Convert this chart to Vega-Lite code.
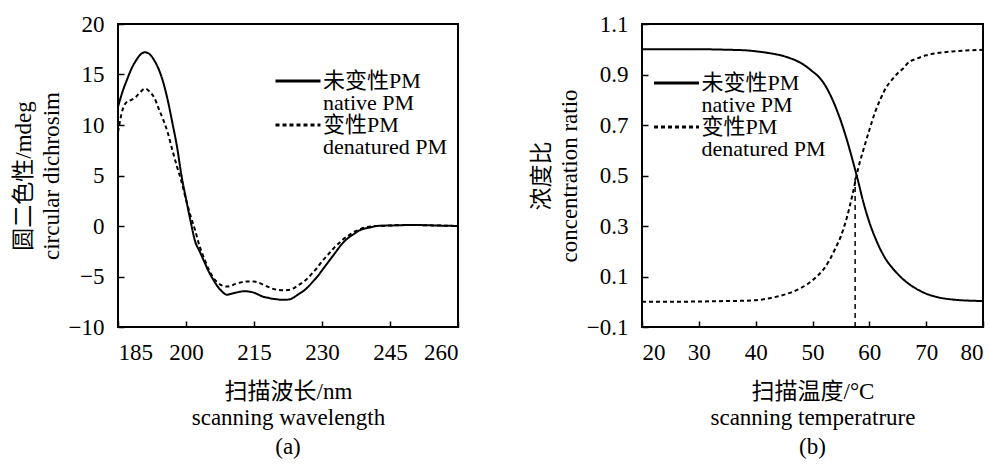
{
  "$schema": "https://vega.github.io/schema/vega-lite/v6.json",
  "padding": {"left": 11, "top": 12, "right": 0, "bottom": 0},
  "spacing": 66,
  "resolve": {"legend": {"strokeDash": "independent"}, "scale": {"strokeDash": "independent"}},
  "datasets": {
    "cd": [
      {"wavelength": 185, "cd": 11.8, "series": "native"},
      {"wavelength": 186, "cd": 13.3, "series": "native"},
      {"wavelength": 187, "cd": 14.5, "series": "native"},
      {"wavelength": 188, "cd": 15.6, "series": "native"},
      {"wavelength": 189, "cd": 16.4, "series": "native"},
      {"wavelength": 190, "cd": 17.0, "series": "native"},
      {"wavelength": 191, "cd": 17.2, "series": "native"},
      {"wavelength": 192, "cd": 17.0, "series": "native"},
      {"wavelength": 193, "cd": 16.4, "series": "native"},
      {"wavelength": 194, "cd": 15.5, "series": "native"},
      {"wavelength": 195, "cd": 14.2, "series": "native"},
      {"wavelength": 196, "cd": 12.4, "series": "native"},
      {"wavelength": 197, "cd": 10.2, "series": "native"},
      {"wavelength": 198, "cd": 7.9, "series": "native"},
      {"wavelength": 199, "cd": 5.0, "series": "native"},
      {"wavelength": 200, "cd": 2.7, "series": "native"},
      {"wavelength": 201, "cd": 0.5, "series": "native"},
      {"wavelength": 202, "cd": -1.5, "series": "native"},
      {"wavelength": 203, "cd": -2.5, "series": "native"},
      {"wavelength": 204, "cd": -3.5, "series": "native"},
      {"wavelength": 205, "cd": -4.5, "series": "native"},
      {"wavelength": 206, "cd": -5.3, "series": "native"},
      {"wavelength": 207, "cd": -6.0, "series": "native"},
      {"wavelength": 208, "cd": -6.5, "series": "native"},
      {"wavelength": 209, "cd": -6.8, "series": "native"},
      {"wavelength": 210, "cd": -6.7, "series": "native"},
      {"wavelength": 211, "cd": -6.6, "series": "native"},
      {"wavelength": 212, "cd": -6.5, "series": "native"},
      {"wavelength": 213, "cd": -6.45, "series": "native"},
      {"wavelength": 214, "cd": -6.5, "series": "native"},
      {"wavelength": 215, "cd": -6.6, "series": "native"},
      {"wavelength": 216, "cd": -6.8, "series": "native"},
      {"wavelength": 217, "cd": -7.0, "series": "native"},
      {"wavelength": 218, "cd": -7.1, "series": "native"},
      {"wavelength": 219, "cd": -7.2, "series": "native"},
      {"wavelength": 220, "cd": -7.25, "series": "native"},
      {"wavelength": 221, "cd": -7.3, "series": "native"},
      {"wavelength": 222, "cd": -7.3, "series": "native"},
      {"wavelength": 223, "cd": -7.25, "series": "native"},
      {"wavelength": 224, "cd": -7.0, "series": "native"},
      {"wavelength": 225, "cd": -6.7, "series": "native"},
      {"wavelength": 226, "cd": -6.4, "series": "native"},
      {"wavelength": 227, "cd": -6.0, "series": "native"},
      {"wavelength": 228, "cd": -5.5, "series": "native"},
      {"wavelength": 229, "cd": -5.0, "series": "native"},
      {"wavelength": 230, "cd": -4.4, "series": "native"},
      {"wavelength": 231, "cd": -3.8, "series": "native"},
      {"wavelength": 232, "cd": -3.2, "series": "native"},
      {"wavelength": 233, "cd": -2.6, "series": "native"},
      {"wavelength": 234, "cd": -2.0, "series": "native"},
      {"wavelength": 235, "cd": -1.5, "series": "native"},
      {"wavelength": 236, "cd": -1.1, "series": "native"},
      {"wavelength": 237, "cd": -0.8, "series": "native"},
      {"wavelength": 238, "cd": -0.5, "series": "native"},
      {"wavelength": 239, "cd": -0.3, "series": "native"},
      {"wavelength": 240, "cd": -0.2, "series": "native"},
      {"wavelength": 241, "cd": -0.1, "series": "native"},
      {"wavelength": 242, "cd": 0.0, "series": "native"},
      {"wavelength": 245, "cd": 0.05, "series": "native"},
      {"wavelength": 250, "cd": 0.1, "series": "native"},
      {"wavelength": 255, "cd": 0.05, "series": "native"},
      {"wavelength": 260, "cd": 0.0, "series": "native"},
      {"wavelength": 185, "cd": 9.3, "series": "denatured"},
      {"wavelength": 186, "cd": 11.5, "series": "denatured"},
      {"wavelength": 187, "cd": 12.3, "series": "denatured"},
      {"wavelength": 188, "cd": 12.5, "series": "denatured"},
      {"wavelength": 189, "cd": 12.8, "series": "denatured"},
      {"wavelength": 190, "cd": 13.3, "series": "denatured"},
      {"wavelength": 191, "cd": 13.6, "series": "denatured"},
      {"wavelength": 192, "cd": 13.3, "series": "denatured"},
      {"wavelength": 193, "cd": 12.7, "series": "denatured"},
      {"wavelength": 194, "cd": 11.6, "series": "denatured"},
      {"wavelength": 195, "cd": 10.5, "series": "denatured"},
      {"wavelength": 196, "cd": 9.2, "series": "denatured"},
      {"wavelength": 197, "cd": 7.5, "series": "denatured"},
      {"wavelength": 198, "cd": 5.9, "series": "denatured"},
      {"wavelength": 199, "cd": 4.4, "series": "denatured"},
      {"wavelength": 200, "cd": 2.6, "series": "denatured"},
      {"wavelength": 201, "cd": 1.0, "series": "denatured"},
      {"wavelength": 202, "cd": -0.4, "series": "denatured"},
      {"wavelength": 203, "cd": -2.0, "series": "denatured"},
      {"wavelength": 204, "cd": -3.2, "series": "denatured"},
      {"wavelength": 205, "cd": -4.3, "series": "denatured"},
      {"wavelength": 206, "cd": -5.1, "series": "denatured"},
      {"wavelength": 207, "cd": -5.6, "series": "denatured"},
      {"wavelength": 208, "cd": -5.9, "series": "denatured"},
      {"wavelength": 209, "cd": -6.0, "series": "denatured"},
      {"wavelength": 210, "cd": -5.9, "series": "denatured"},
      {"wavelength": 211, "cd": -5.7, "series": "denatured"},
      {"wavelength": 212, "cd": -5.6, "series": "denatured"},
      {"wavelength": 213, "cd": -5.5, "series": "denatured"},
      {"wavelength": 214, "cd": -5.5, "series": "denatured"},
      {"wavelength": 215, "cd": -5.5, "series": "denatured"},
      {"wavelength": 216, "cd": -5.6, "series": "denatured"},
      {"wavelength": 217, "cd": -5.8, "series": "denatured"},
      {"wavelength": 218, "cd": -6.0, "series": "denatured"},
      {"wavelength": 219, "cd": -6.2, "series": "denatured"},
      {"wavelength": 220, "cd": -6.3, "series": "denatured"},
      {"wavelength": 221, "cd": -6.35, "series": "denatured"},
      {"wavelength": 222, "cd": -6.35, "series": "denatured"},
      {"wavelength": 223, "cd": -6.3, "series": "denatured"},
      {"wavelength": 224, "cd": -6.1, "series": "denatured"},
      {"wavelength": 225, "cd": -5.8, "series": "denatured"},
      {"wavelength": 226, "cd": -5.5, "series": "denatured"},
      {"wavelength": 227, "cd": -5.1, "series": "denatured"},
      {"wavelength": 228, "cd": -4.6, "series": "denatured"},
      {"wavelength": 229, "cd": -4.1, "series": "denatured"},
      {"wavelength": 230, "cd": -3.5, "series": "denatured"},
      {"wavelength": 231, "cd": -3.0, "series": "denatured"},
      {"wavelength": 232, "cd": -2.5, "series": "denatured"},
      {"wavelength": 233, "cd": -2.0, "series": "denatured"},
      {"wavelength": 234, "cd": -1.6, "series": "denatured"},
      {"wavelength": 235, "cd": -1.2, "series": "denatured"},
      {"wavelength": 236, "cd": -0.9, "series": "denatured"},
      {"wavelength": 237, "cd": -0.6, "series": "denatured"},
      {"wavelength": 238, "cd": -0.4, "series": "denatured"},
      {"wavelength": 239, "cd": -0.2, "series": "denatured"},
      {"wavelength": 240, "cd": -0.1, "series": "denatured"},
      {"wavelength": 242, "cd": 0.0, "series": "denatured"},
      {"wavelength": 245, "cd": 0.05, "series": "denatured"},
      {"wavelength": 250, "cd": 0.1, "series": "denatured"},
      {"wavelength": 255, "cd": 0.05, "series": "denatured"},
      {"wavelength": 260, "cd": 0.0, "series": "denatured"}
    ],
    "melt": [
      {"temperature": 20, "ratio": 1.0, "series": "native"},
      {"temperature": 25, "ratio": 1.0, "series": "native"},
      {"temperature": 30, "ratio": 1.0, "series": "native"},
      {"temperature": 35, "ratio": 0.998, "series": "native"},
      {"temperature": 38, "ratio": 0.996, "series": "native"},
      {"temperature": 40, "ratio": 0.992, "series": "native"},
      {"temperature": 42, "ratio": 0.986, "series": "native"},
      {"temperature": 44, "ratio": 0.978, "series": "native"},
      {"temperature": 46, "ratio": 0.965, "series": "native"},
      {"temperature": 48, "ratio": 0.945, "series": "native"},
      {"temperature": 49, "ratio": 0.93, "series": "native"},
      {"temperature": 50, "ratio": 0.912, "series": "native"},
      {"temperature": 51, "ratio": 0.893, "series": "native"},
      {"temperature": 52, "ratio": 0.865, "series": "native"},
      {"temperature": 53, "ratio": 0.825, "series": "native"},
      {"temperature": 54, "ratio": 0.775, "series": "native"},
      {"temperature": 55, "ratio": 0.715, "series": "native"},
      {"temperature": 56, "ratio": 0.645, "series": "native"},
      {"temperature": 57, "ratio": 0.565, "series": "native"},
      {"temperature": 58, "ratio": 0.48, "series": "native"},
      {"temperature": 59, "ratio": 0.39, "series": "native"},
      {"temperature": 60, "ratio": 0.315, "series": "native"},
      {"temperature": 61, "ratio": 0.255, "series": "native"},
      {"temperature": 62, "ratio": 0.205, "series": "native"},
      {"temperature": 63, "ratio": 0.165, "series": "native"},
      {"temperature": 64, "ratio": 0.135, "series": "native"},
      {"temperature": 65, "ratio": 0.11, "series": "native"},
      {"temperature": 66, "ratio": 0.088, "series": "native"},
      {"temperature": 67, "ratio": 0.07, "series": "native"},
      {"temperature": 68, "ratio": 0.055, "series": "native"},
      {"temperature": 70, "ratio": 0.032, "series": "native"},
      {"temperature": 72, "ratio": 0.018, "series": "native"},
      {"temperature": 75, "ratio": 0.008, "series": "native"},
      {"temperature": 78, "ratio": 0.004, "series": "native"},
      {"temperature": 80, "ratio": 0.003, "series": "native"},
      {"temperature": 20, "ratio": 0.0, "series": "denatured"},
      {"temperature": 25, "ratio": 0.0, "series": "denatured"},
      {"temperature": 30, "ratio": 0.001, "series": "denatured"},
      {"temperature": 35, "ratio": 0.003, "series": "denatured"},
      {"temperature": 38, "ratio": 0.004, "series": "denatured"},
      {"temperature": 40, "ratio": 0.006, "series": "denatured"},
      {"temperature": 42, "ratio": 0.012, "series": "denatured"},
      {"temperature": 44, "ratio": 0.022, "series": "denatured"},
      {"temperature": 46, "ratio": 0.035, "series": "denatured"},
      {"temperature": 48, "ratio": 0.055, "series": "denatured"},
      {"temperature": 49, "ratio": 0.068, "series": "denatured"},
      {"temperature": 50, "ratio": 0.085, "series": "denatured"},
      {"temperature": 51, "ratio": 0.105, "series": "denatured"},
      {"temperature": 52, "ratio": 0.13, "series": "denatured"},
      {"temperature": 53, "ratio": 0.165, "series": "denatured"},
      {"temperature": 54, "ratio": 0.21, "series": "denatured"},
      {"temperature": 55, "ratio": 0.26, "series": "denatured"},
      {"temperature": 56, "ratio": 0.33, "series": "denatured"},
      {"temperature": 57, "ratio": 0.42, "series": "denatured"},
      {"temperature": 58, "ratio": 0.525, "series": "denatured"},
      {"temperature": 59, "ratio": 0.605, "series": "denatured"},
      {"temperature": 60, "ratio": 0.68, "series": "denatured"},
      {"temperature": 61, "ratio": 0.75, "series": "denatured"},
      {"temperature": 62, "ratio": 0.805, "series": "denatured"},
      {"temperature": 63, "ratio": 0.85, "series": "denatured"},
      {"temperature": 64, "ratio": 0.88, "series": "denatured"},
      {"temperature": 65, "ratio": 0.905, "series": "denatured"},
      {"temperature": 66, "ratio": 0.925, "series": "denatured"},
      {"temperature": 67, "ratio": 0.95, "series": "denatured"},
      {"temperature": 68, "ratio": 0.96, "series": "denatured"},
      {"temperature": 70, "ratio": 0.976, "series": "denatured"},
      {"temperature": 72, "ratio": 0.985, "series": "denatured"},
      {"temperature": 75, "ratio": 0.992, "series": "denatured"},
      {"temperature": 78, "ratio": 0.996, "series": "denatured"},
      {"temperature": 80, "ratio": 0.998, "series": "denatured"}
    ],
    "vline": [
      {"temperature": 57.5, "ratio": -0.1, "ratio2": 0.5}
    ]
  },
  "hconcat": [
    {
      "width": 340,
      "height": 303,
      "title": {"text": "(a)", "orient": "bottom", "offset": 7},
      "data": {"name": "cd"},
      "mark": {"type": "line", "color": "black", "strokeWidth": 2, "interpolate": "monotone"},
      "encoding": {
        "x": {
          "field": "wavelength", "type": "quantitative",
          "scale": {"domain": [185, 260], "nice": false, "zero": false},
          "axis": {"values": [185, 200, 215, 230, 245, 260], "title": ["扫描波长/nm", "scanning wavelength"]}
        },
        "y": {
          "field": "cd", "type": "quantitative",
          "scale": {"domain": [-10, 20], "nice": false},
          "axis": {"values": [-10, -5, 0, 5, 10, 15, 20], "title": ["圆二色性/mdeg", "circular dichrosim"], "titlePadding": 5, "titleLineHeight": 28}
        },
        "strokeDash": {
          "field": "series", "type": "nominal",
          "scale": {"domain": ["native", "denatured"], "range": [[1, 0], [4, 3]]},
          "legend": {
            "title": null, "orient": "none", "legendX": 198, "legendY": 46,
            "symbolType": "M-5.5,0H3.5", "symbolSize": 100, "symbolOffset": -24, "symbolStrokeWidth": 3, "symbolStrokeColor": "black", "symbolFillColor": "transparent",
            "labelFontSize": 22, "labelColor": "black", "labelBaseline": "middle", "labelOffset": 9, "labelLimit": 0, "rowPadding": 0,
            "labelExpr": "datum.value == 'native' ? ['未变性PM', 'native PM'] : ['变性PM', 'denatured PM']",
            "encode": {"labels": {"update": {"lineHeight": {"value": 22}}}}
          }
        }
      }
    },
    {
      "width": 341,
      "height": 303,
      "title": {"text": "(b)", "orient": "bottom", "offset": 7},
      "layer": [
        {
          "data": {"name": "melt"},
          "mark": {"type": "line", "color": "black", "strokeWidth": 2, "interpolate": "monotone"},
          "encoding": {
            "x": {
              "field": "temperature", "type": "quantitative",
              "scale": {"domain": [20, 80], "nice": false, "zero": false},
              "axis": {"values": [20, 30, 40, 50, 60, 70, 80], "title": ["扫描温度/°C", "scanning temperatrure"]}
            },
            "y": {
              "field": "ratio", "type": "quantitative",
              "scale": {"domain": [-0.1, 1.1], "nice": false},
              "axis": {"values": [-0.1, 0.1, 0.3, 0.5, 0.7, 0.9, 1.1], "format": ".1f", "title": ["浓度比", "concentration ratio"], "titlePadding": 5, "titleLineHeight": 28}
            },
            "strokeDash": {
              "field": "series", "type": "nominal",
              "scale": {"domain": ["native", "denatured"], "range": [[1, 0], [4, 3]]},
              "legend": {
                "title": null, "orient": "none", "legendX": 48, "legendY": 48,
                "symbolType": "M-5.5,0H3.5", "symbolSize": 100, "symbolOffset": -19.5, "symbolStrokeWidth": 3, "symbolStrokeColor": "black", "symbolFillColor": "transparent",
                "labelFontSize": 22, "labelColor": "black", "labelBaseline": "middle", "labelOffset": 9, "labelLimit": 0, "rowPadding": 0,
                "labelExpr": "datum.value == 'native' ? ['未变性PM', 'native PM'] : ['变性PM', 'denatured PM']",
                "encode": {"labels": {"update": {"lineHeight": {"value": 22}}}}
              }
            }
          }
        },
        {
          "data": {"name": "vline"},
          "mark": {"type": "rule", "color": "black", "strokeWidth": 1.5, "strokeDash": [5, 4]},
          "encoding": {
            "x": {"field": "temperature", "type": "quantitative"},
            "y": {"field": "ratio", "type": "quantitative"},
            "y2": {"field": "ratio2"}
          }
        }
      ]
    }
  ],
  "config": {
    "font": "Liberation Serif, Noto Sans CJK SC",
    "view": {"stroke": "black", "strokeWidth": 2},
    "title": {"fontSize": 23, "fontWeight": "normal", "color": "black", "font": "Liberation Serif, Noto Sans CJK SC"},
    "legend": {"labelFont": "Liberation Serif, Noto Sans CJK SC"},
    "axis": {
      "domain": false, "grid": false,
      "ticks": true, "tickColor": "black", "tickSize": -6, "tickWidth": 1.5,
      "labelFont": "Liberation Serif, Noto Sans CJK SC", "labelFontSize": 23, "labelColor": "black", "labelPadding": 20,
      "titleFont": "Liberation Serif, Noto Sans CJK SC", "titleFontSize": 23, "titleFontWeight": "normal", "titleColor": "black",
      "titleLineHeight": 26
    },
    "axisX": {"titlePadding": 16}
  }
}
